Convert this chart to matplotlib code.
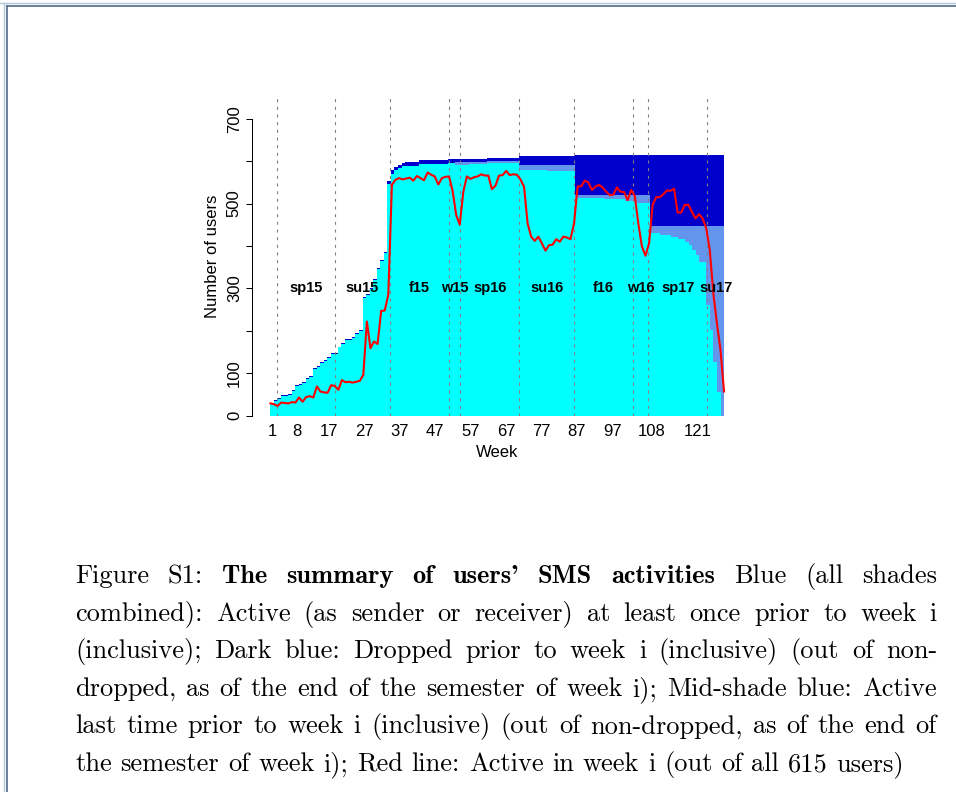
import numpy as np
import matplotlib.pyplot as plt
from matplotlib.lines import Line2D

# bar layers per week, bottom to top
active = [28, 35, 39, 46, 46, 48, 58, 70, 72, 78,
          86, 91, 111, 115, 124, 129, 137, 146, 146, 161,
          169, 179, 179, 183, 193, 200, 278, 285, 298, 320,
          345, 365, 383, 546, 570, 578, 584, 588, 589, 589,
          589, 589, 593, 593, 593, 593, 593, 593, 593, 593,
          595, 595, 592, 592, 592, 592, 593, 593, 593, 593,
          593, 595, 595, 595, 595, 595, 595, 595, 595, 595,
          578, 578, 578, 578, 578, 578, 578, 578, 577, 577,
          577, 577, 577, 577, 577, 577, 512, 512, 512, 512,
          512, 512, 512, 512, 510, 510, 510, 510, 510, 510,
          507, 507, 505, 501, 501, 501, 501, 430, 430, 430,
          426, 426, 426, 422, 422, 416, 416, 410, 402, 390,
          379, 363, 363, 261, 202, 127, 55, 0]
last_active = [0, 0, 0, 0, 0, 0, 0, 0, 0, 0,
               0, 0, 0, 0, 0, 0, 0, 0, 0, 0,
               0, 0, 0, 0, 0, 0, 0, 0, 0, 0,
               0, 0, 0, 0, 0, 0, 0, 0, 0, 0,
               0, 0, 0, 0, 0, 0, 0, 0, 0, 0,
               0, 0, 6, 6, 6, 6, 6, 6, 6, 6,
               6, 6, 6, 6, 6, 6, 6, 6, 6, 6,
               13, 13, 13, 13, 13, 13, 13, 13, 14, 14,
               14, 14, 14, 14, 14, 14, 9, 9, 9, 9,
               9, 9, 9, 9, 11, 11, 11, 11, 11, 11,
               14, 14, 16, 20, 20, 20, 20, 16, 16, 16,
               20, 20, 20, 24, 24, 30, 30, 36, 44, 56,
               67, 83, 83, 185, 244, 319, 391, 446]
dropped = [2, 2, 2, 2, 2, 2, 2, 2, 2, 2,
           2, 2, 2, 2, 2, 2, 2, 2, 2, 2,
           2, 2, 2, 2, 2, 2, 2, 2, 2, 2,
           2, 2, 2, 8, 8, 8, 8, 8, 10, 10,
           10, 10, 10, 10, 10, 10, 10, 10, 10, 10,
           10, 10, 7, 7, 7, 7, 7, 7, 7, 7,
           7, 7, 7, 7, 7, 7, 7, 7, 7, 7,
           20, 20, 20, 20, 20, 20, 20, 20, 20, 20,
           20, 20, 20, 20, 20, 20, 94, 94, 94, 94,
           94, 94, 94, 94, 94, 94, 94, 94, 94, 94,
           94, 94, 94, 94, 94, 94, 94, 169, 169, 169,
           169, 169, 169, 169, 169, 169, 169, 169, 169, 169,
           169, 169, 169, 169, 169, 169, 169, 169]
# users active in each week (red line)
weekly = [29, 27, 23, 31, 30, 29, 32, 31, 43, 33,
          44, 46, 43, 69, 57, 55, 54, 72, 70, 61,
          84, 79, 80, 78, 80, 82, 96, 222, 159, 175,
          169, 247, 248, 285, 544, 556, 560, 557, 559, 561,
          554, 565, 560, 555, 573, 568, 564, 545, 560, 563,
          564, 530, 473, 450, 528, 564, 558, 562, 564, 569,
          566, 566, 534, 542, 566, 567, 577, 567, 569, 568,
          557, 540, 453, 422, 412, 422, 406, 389, 402, 403,
          416, 410, 422, 420, 416, 453, 540, 541, 554, 550,
          532, 540, 544, 538, 528, 520, 521, 538, 528, 527,
          508, 532, 518, 453, 399, 377, 406, 497, 515, 515,
          522, 531, 530, 535, 479, 479, 497, 497, 481, 465,
          475, 465, 442, 391, 288, 218, 155, 57]

week_ticks = [1, 8, 17, 27, 37, 47, 57, 67, 77, 87, 97, 108, 121]
breaks = [2.33, 18.77, 34.1, 50.9, 54.1, 70.76, 86.15, 102.9, 107.1, 123.8]
semesters = ['sp15', 'su15', 'f15', 'w15', 'sp16', 'su16', 'f16', 'w16', 'sp17', 'su17']

caption = [
    [("Figure S1:", False), ("The summary of users' SMS activities", True), ("Blue (all shades", False)],
    [("combined): Active (as sender or receiver) at least once prior to week i", False)],
    [("(inclusive); Dark blue: Dropped prior to week i (inclusive) (out of non-", False)],
    [("dropped, as of the end of the semester of week i); Mid-shade blue: Active", False)],
    [("last time prior to week i (inclusive) (out of non-dropped, as of the end of", False)],
    [("the semester of week i); Red line: Active in week i (out of all 615 users)", False)],
]

W, H = 956, 792
plt.rcParams['font.family'] = ['Liberation Sans', 'DejaVu Sans']
fig = plt.figure(figsize=(W / 100, H / 100), dpi=100)
ax = fig.add_axes([252.3 / W, 1 - 415.7 / H, (742.2 - 252.3) / W, (415.7 - 97.5) / H])
ax.set_xlim(-4.62, 133.62)
ax.set_ylim(0, 750)

weeks = np.arange(1, len(active) + 1)
a = np.array(active)
m = np.array(last_active)
d = np.array(dropped)
ax.bar(weeks, a, width=1.0, color='#00FFFF', linewidth=0, antialiased=False)
ax.bar(weeks, m, bottom=a, width=1.0, color='#6495ED', linewidth=0, antialiased=False)
ax.bar(weeks, d, bottom=a + m, width=1.0, color='#0000CD', linewidth=0, antialiased=False)

for b in breaks:
    ax.axvline(b, color='#808080', lw=0.8, ls=(0, (2.7, 4.2)), zorder=3)

ax.plot(np.linspace(0.5, len(weekly) + 0.5, len(weekly)), weekly, color='#FF0000', lw=1.5, zorder=4)

edges = np.array(breaks + [len(weekly) + 0.5])
mids = (edges[:-1] + edges[1:]) / 2
for x, name in zip(mids, semesters):
    ax.text(x, 300, name, ha='center', va='center', fontsize=10.5, fontweight='bold', zorder=5)

for s in ['top', 'right', 'bottom']:
    ax.spines[s].set_visible(False)
ax.spines['left'].set_bounds(0, 700)
ax.spines['left'].set_linewidth(0.75)

ax.set_xticks(week_ticks)
ax.set_xticklabels([str(w) for w in week_ticks])
ax.tick_params(axis='x', length=0, pad=6, labelsize=12)
ax.set_yticks(range(0, 701, 100))
ax.set_yticklabels(['0', '100', '', '300', '', '500', '', '700'])
ax.tick_params(axis='y', length=4.5, width=0.75, pad=3, labelsize=12, labelrotation=90)
for lab in ax.get_yticklabels():
    lab.set_va('center')

ax.set_ylabel('Number of users', fontsize=12)
ax.yaxis.set_label_coords(-0.066, 0.5)
ax.set_xlabel('Week', fontsize=12)
ax.xaxis.set_label_coords(0.5, -0.093)

# page frame
fig.add_artist(Line2D([0, 1], [1 - 2.5 / H, 1 - 2.5 / H], color='#b4c6dc', lw=1.0))
fig.add_artist(Line2D([6.5 / W, 1], [1 - 5.5 / H, 1 - 5.5 / H], color='#4f6b8c', lw=1.2))
fig.add_artist(Line2D([4 / W, 4 / W], [0, 1 - 2.5 / H], color='#b4c6dc', lw=1.0))
fig.add_artist(Line2D([6.5 / W, 6.5 / W], [0, 1 - 5.5 / H], color='#4f6b8c', lw=1.2))

# justified caption, word by word
renderer = fig.canvas.get_renderer()
left, right, base, step, size = 75, 937, 583, 37.6, 19.0
for i, segs in enumerate(caption):
    words = [(w, bold) for s, bold in segs for w in s.split()]
    objs = [fig.text(0, 1 - (base + i * step) / H, w, fontsize=size,
                     family='cmb10' if bold else 'cmr10', va='baseline')
            for w, bold in words]
    widths = [o.get_window_extent(renderer).width for o in objs]
    if i < len(caption) - 1:
        gap = (right - left - sum(widths)) / (len(words) - 1)
    else:
        gap = 0.333 * size / 72 * 100
    x = left
    for o, w in zip(objs, widths):
        o.set_x(x / W)
        x += w + gap

fig.savefig('out.png', dpi=100)
